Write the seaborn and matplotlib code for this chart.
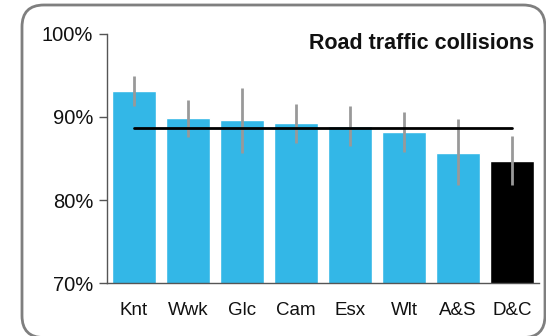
import numpy as np
import pandas as pd
import matplotlib
matplotlib.use('Agg')
import matplotlib.pyplot as plt
import seaborn as sns
from matplotlib.patches import FancyBboxPatch

# data
areas = ['Knt', 'Wwk', 'Glc', 'Cam', 'Esx', 'Wlt', 'A&S', 'D&C']
values = [93.1, 89.9, 89.6, 89.3, 88.9, 88.2, 85.7, 84.7]
err_low = [91.3, 87.6, 85.7, 86.8, 86.5, 85.8, 81.8, 81.8]
err_high = [94.9, 92.0, 93.5, 91.6, 91.3, 90.6, 89.7, 87.7]
average = 88.7
highlight = 'D&C'

sns.set_style('white')
plt.rcParams['font.family'] = ['Liberation Sans', 'DejaVu Sans']
plt.rcParams['text.color'] = '#111111'
plt.rcParams['xtick.color'] = '#111111'
plt.rcParams['ytick.color'] = '#111111'

df = pd.DataFrame({'area': areas, 'value': values})
colors = ['black' if a == highlight else '#33b7e7' for a in areas]

fig = plt.figure(figsize=(5.46, 3.36), dpi=100)
ax = fig.add_axes([0.196, 0.157, 0.791, 0.743])

sns.barplot(data=df, x='area', y='value', hue='area', palette=colors,
            legend=False, width=0.815, saturation=1, ax=ax, bottom=0)

# confidence intervals
x = np.arange(len(areas))
ax.vlines(x, err_low, err_high, color='#999999', linewidth=2, zorder=3)

# average line
ax.plot([x[0], x[-1]], [average, average], color='black', linewidth=2, zorder=4)

ax.set_ylim(70, 100)
ax.set_xlim(-0.5, len(areas) - 0.5)
ax.set_yticks([70, 80, 90, 100])
ax.set_yticklabels(['70%', '80%', '90%', '100%'])
ax.set_xlabel('')
ax.set_ylabel('')
ax.tick_params(axis='y', left=True, length=6, width=1, color='#555555',
               labelsize=14.5, pad=4)
ax.tick_params(axis='x', bottom=False, labelsize=13.5, pad=10)
for side in ['top', 'right']:
    ax.spines[side].set_visible(False)
for side in ['left', 'bottom']:
    ax.spines[side].set_color('#555555')
    ax.spines[side].set_linewidth(1)

ax.text(0.990, 0.96, 'Road traffic collisions', transform=ax.transAxes,
        ha='right', va='center', fontsize=15.5, fontweight='bold')

# rounded frame around the chart
frame = FancyBboxPatch((22 / 546, -1.6 / 336), 523 / 546, 332.6 / 336,
                       boxstyle='round,pad=0,rounding_size=0.04',
                       transform=fig.transFigure, fill=False,
                       edgecolor='#7f7f7f', linewidth=2, mutation_aspect=546 / 336)
fig.patches.append(frame)

fig.savefig('out.png', dpi=100)
